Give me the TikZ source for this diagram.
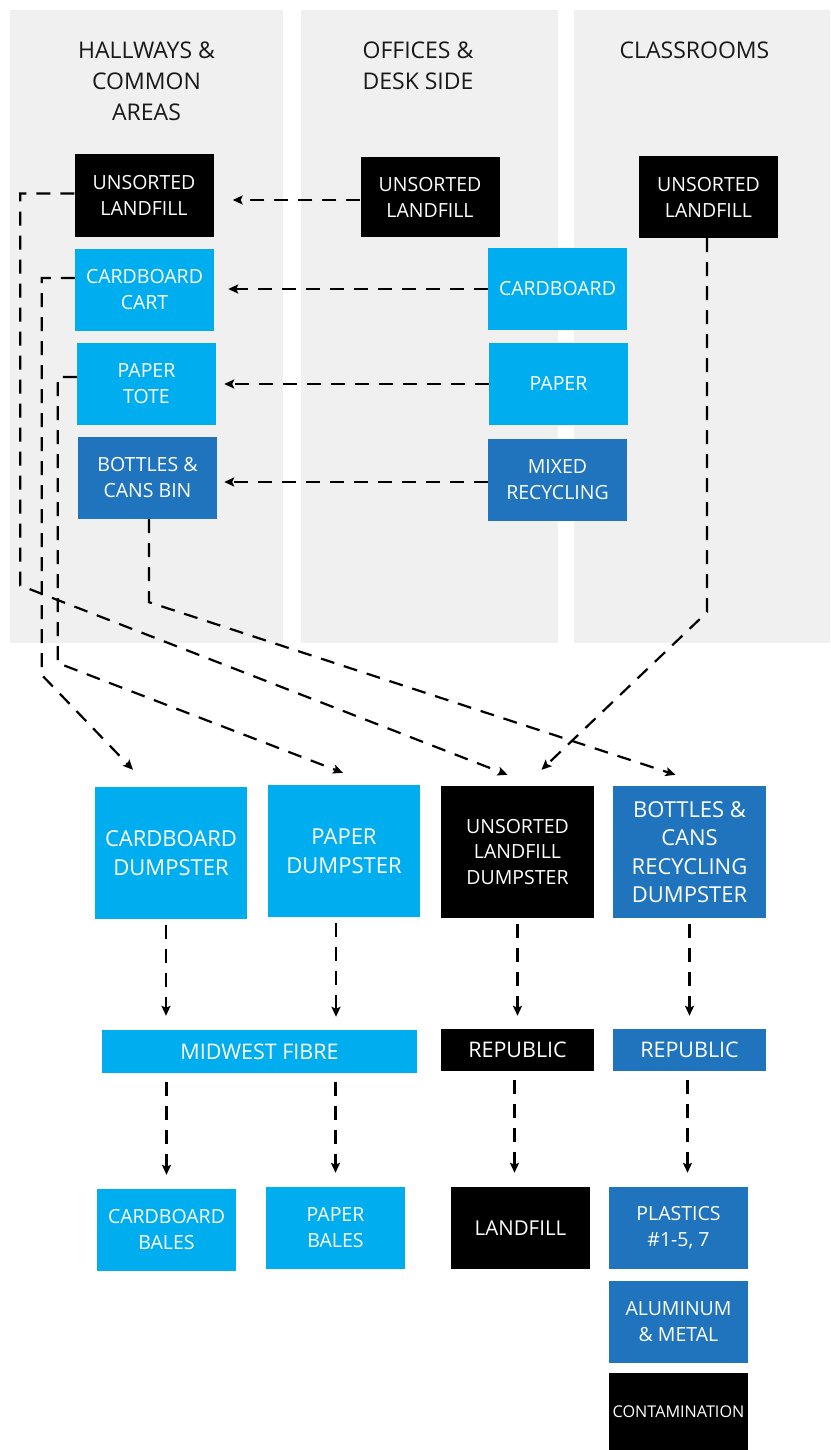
\documentclass[tikz,border=0pt]{standalone}
\usepackage{fontspec}
\setmainfont{Open Sans}
\usepackage{tikz}
\usetikzlibrary{positioning, arrows.meta}
\definecolor{cyanBin}{HTML}{00AEEF}
\definecolor{blueBin}{HTML}{1F74BD}
\definecolor{panelGray}{HTML}{F0F0F0}

\begin{document}
\begin{tikzpicture}[x=1pt, y=-1pt,
  binblack/.style={fill=black, text=white, align=center, inner sep=0pt,
                   minimum width=139pt, minimum height=82pt,
                   font=\fontsize{19.5}{26}\selectfont},
  bincyan/.style={binblack, fill=cyanBin},
  binblue/.style={binblack, fill=blueBin},
  dumpster/.style={minimum width=153pt, minimum height=132pt,
                   font=\fontsize{22}{28.5}\selectfont},
  hauler/.style={minimum width=153pt, minimum height=42pt,
                 font=\fontsize{21.5}{26}\selectfont},
  header/.style={align=center, text=black!90, font=\fontsize{23}{31}\selectfont},
  flow/.style={black, line width=2.2pt, dash pattern=on 14pt off 10pt,
               -{Stealth[length=10pt, width=9pt, inset=2pt]}}
]
  \useasboundingbox (0,0) rectangle (830,1450);

  % columns
  \fill[panelGray] (10,10) rectangle (283,643);
  \fill[panelGray] (301,10) rectangle (558,643);
  \fill[panelGray] (574,10) rectangle (830,643);

  \node[header] (hdrHall) at (146.5,81) {HALLWAYS \&\\COMMON\\AREAS};
  \node[header] (hdrOff) at (418,65.5) {OFFICES \&\\DESK SIDE};
  \node[header] (hdrClass) at (694.5,50) {CLASSROOMS};

  % hallway bins
  \node[binblack, minimum height=83pt] (hallLand) at (144,195.5) {UNSORTED\\LANDFILL};
  \node[bincyan] (hallCard) at (144.5,290) {CARDBOARD\\CART};
  \node[bincyan] (hallPaper) at (146.5,384) {PAPER\\TOTE};
  \node[binblue] (hallBottle) at (147.5,478) {BOTTLES \&\\CANS BIN};

  % office bins
  \node[binblack, minimum height=80pt] (offLand) at (430,197) {UNSORTED\\LANDFILL};
  \node[bincyan] (offCard) at (557.5,289) {CARDBOARD};
  \node[bincyan] (offPaper) at (558.5,384) {PAPER};
  \node[binblue] (offMixed) at (557.5,480) {MIXED\\RECYCLING};

  % classroom bin
  \node[binblack] (classLand) at (708.5,197) {UNSORTED\\LANDFILL};

  % dumpsters
  \node[bincyan, dumpster, minimum width=152pt] (dumpCard) at (171,853) {CARDBOARD\\DUMPSTER};
  \node[bincyan, dumpster, minimum width=152pt] (dumpPaper) at (344,851) {PAPER\\DUMPSTER};
  \node[binblack, dumpster, font=\fontsize{19.5}{25.5}\selectfont] (dumpLand) at (517.5,852) {UNSORTED\\LANDFILL\\DUMPSTER};
  \node[binblue, dumpster] (dumpBottle) at (689.5,852) {BOTTLES \&\\CANS\\RECYCLING\\DUMPSTER};

  % haulers
  \node[bincyan, hauler, minimum width=315pt, minimum height=43pt] (fibre) at (259.5,1051.5) {MIDWEST FIBRE};
  \node[binblack, hauler] (repLand) at (517.5,1050) {REPUBLIC};
  \node[binblue, hauler] (repBottle) at (689.5,1050) {REPUBLIC};

  % end products
  \node[bincyan] (balesCard) at (166.5,1230) {CARDBOARD\\BALES};
  \node[bincyan] (balesPaper) at (335.5,1228) {PAPER\\BALES};
  \node[binblack, font=\fontsize{20.5}{26}\selectfont] (landfill) at (520.5,1228) {LANDFILL};
  \node[binblue] (plastics) at (678.5,1228) {PLASTICS\\\#1-5, 7};
  \node[binblue] (aluminum) at (678.5,1322) {ALUMINUM\\\& METAL};
  \node[binblack, minimum height=77pt, font=\fontsize{16.2}{20}\selectfont] (contam) at (678.5,1411.5) {CONTAMINATION};

  % offices to hallways
  \draw[flow, shorten >=19pt] ([yshift=-3pt]offLand.west) -- ([yshift=-3pt]offLand.west -| hallLand.east);
  \draw[flow, shorten >=14pt] (offCard.west) -- (offCard.west -| hallCard.east);
  \draw[flow, shorten >=8pt] (offPaper.west) -- (offPaper.west -| hallPaper.east);
  \draw[flow, shorten >=7pt] ([yshift=-2pt]offMixed.west) -- ([yshift=-2pt]offMixed.west -| hallBottle.east);

  % hallways to dumpsters
  \draw[flow] ([yshift=2pt]hallLand.west) -- ++(-54,0) -- ++(0,392)
    -- ([shift={(-10,-11)}]dumpLand.north);
  \draw[flow] ([yshift=12pt]hallCard.west) -- ++(-33,0) -- ++(0,397)
    -- ([shift={(-38,-17)}]dumpCard.north);
  \draw[flow] ([yshift=7pt]hallPaper.west) -- ++(-19,0) -- ++(0,286)
    -- ([shift={(-1,-12)}]dumpPaper.north);
  \draw[flow] ([xshift=1.5pt]hallBottle.south) -- ++(0,83)
    -- ([shift={(-14,-11)}]dumpBottle.north);
  \draw[flow] ([xshift=-1.5pt]classLand.south) -- ++(0,374)
    -- ([shift={(24,-16)}]dumpLand.north);

  % dumpsters to haulers
  \draw[flow, shorten <=6pt, shorten >=14pt] ([xshift=-5pt]dumpCard.south) -- ([xshift=-5pt]dumpCard.south |- fibre.north);
  \draw[flow, shorten <=6pt, shorten >=13pt] ([xshift=-8pt]dumpPaper.south) -- ([xshift=-8pt]dumpPaper.south |- fibre.north);
  \draw[flow, shorten <=6pt, shorten >=13pt] (dumpLand.south) -- (repLand.north);
  \draw[flow, shorten <=6pt, shorten >=13pt] (dumpBottle.south) -- (repBottle.north);

  % haulers to products
  \draw[flow, shorten <=9pt, shorten >=14pt] (fibre.south -| balesCard.north) -- (balesCard.north);
  \draw[flow, shorten <=9pt, shorten >=14pt] (fibre.south -| balesPaper.north) -- (balesPaper.north);
  \draw[flow, shorten <=9pt, shorten >=14pt] ([xshift=-3pt]repLand.south) -- ([xshift=-3pt]repLand.south |- landfill.north);
  \draw[flow, shorten <=9pt, shorten >=14pt] ([xshift=-2pt]repBottle.south) -- ([xshift=-2pt]repBottle.south |- plastics.north);
\end{tikzpicture}
\end{document}
